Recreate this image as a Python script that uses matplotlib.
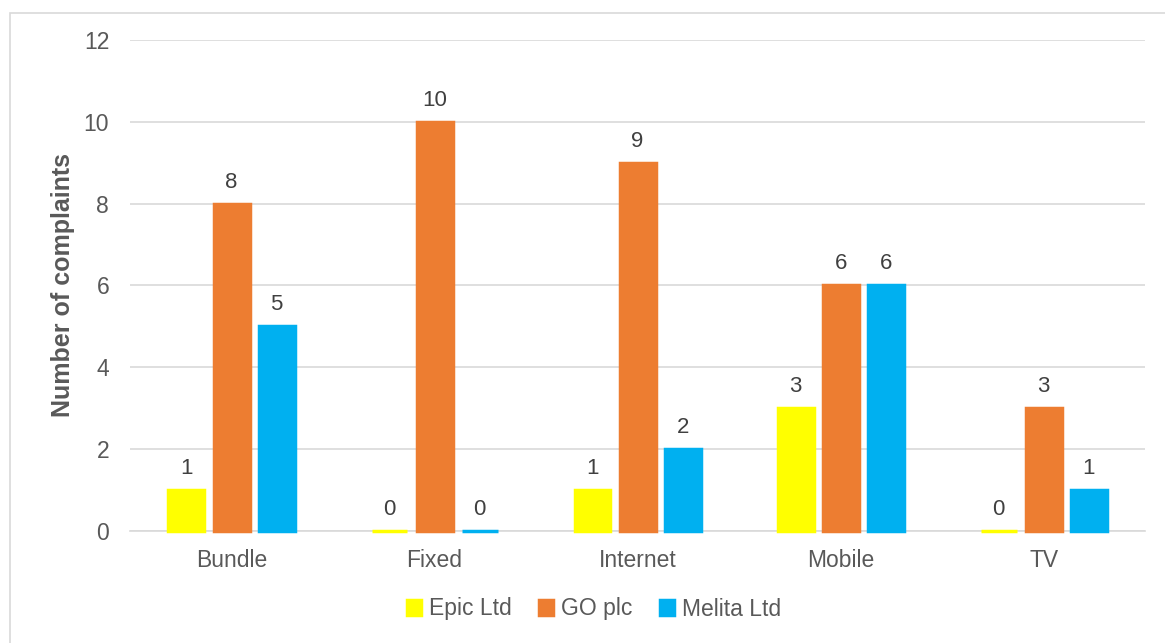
import numpy as np
import matplotlib.pyplot as plt
from matplotlib.patches import Rectangle

plt.rcParams['font.family'] = ['Liberation Sans', 'DejaVu Sans']

categories = ["Bundle", "Fixed", "Internet", "Mobile", "TV"]
series_names = ["Epic Ltd", "GO plc", "Melita Ltd"]
epic = [1, 0, 1, 3, 0]
go = [8, 10, 9, 6, 3]
melita = [5, 0, 2, 6, 1]
colors = ["#FFFF00", "#ED7D31", "#00B0F0"]

fig = plt.figure(figsize=(11.65, 6.43), dpi=100)
ax = fig.add_axes([0.1116, 0.1742, 0.8714, 0.7636])

# light frame around the chart area
fig.patches.append(Rectangle((10 / 1165, -0.01), 1.0, 0.995 - 10 / 643 + 0.01,
                             transform=fig.transFigure, fill=False,
                             edgecolor="#d9d9d9", linewidth=1.2))

x = np.arange(len(categories))
width = 0.177
offsets = [-0.222, 0, 0.222]
text_color = "#595959"

for vals, name, c, off in zip([epic, go, melita], series_names, colors, offsets):
    bars = ax.bar(x + off, vals, width, color=c, label=name,
                  edgecolor=c, linewidth=2.5, zorder=3, clip_on=False)
    for b, v in zip(bars, vals):
        ax.annotate(str(v), (b.get_x() + b.get_width() / 2, v),
                    xytext=(0, 8), textcoords="offset points",
                    ha="center", va="bottom", fontsize=16, color="#404040")

ax.set_xlim(-0.5, len(categories) - 0.5)
ax.set_ylim(0, 12)
ax.set_yticks(range(0, 13, 2))
ax.set_xticks(x)
ax.set_xticklabels(categories)
ax.tick_params(axis="both", length=0, labelsize=16.5, labelcolor=text_color)
ax.tick_params(axis="y", pad=15)
ax.tick_params(axis="x", pad=13)
ax.yaxis.grid(True, color="#d9d9d9", linewidth=1.2, zorder=0)
for s in ["top", "right", "left"]:
    ax.spines[s].set_visible(False)
ax.spines["bottom"].set_color("#d9d9d9")
ax.spines["bottom"].set_linewidth(1.2)

ax.set_ylabel("Number of complaints", fontsize=18, fontweight="bold",
              color=text_color, labelpad=6)

fig.legend(*ax.get_legend_handles_labels(), loc="center",
           bbox_to_anchor=(594 / 1165, 1 - 609 / 643), ncol=3, frameon=False,
           fontsize=16.5, handlelength=0.6, handleheight=0.6, handletextpad=0.35,
           columnspacing=1.2, labelcolor=text_color)

fig.savefig("out.png", dpi=100)
